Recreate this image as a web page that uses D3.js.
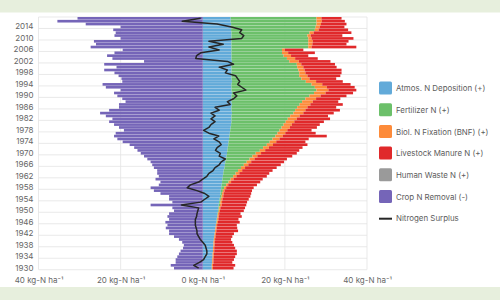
<!DOCTYPE html>
<html>
<head>
<meta charset="utf-8">
<script src="https://cdn.jsdelivr.net/npm/d3@7"></script>
<style>
  body { margin: 0; background: #fff; }
  svg { display: block; font-family: Inter, "Noto Sans", sans-serif; }
</style>
</head>
<body>
<svg id="chart" width="500" height="300"></svg>
<script>
// years run 1930..2017, one bar each
const years = d3.range(1930, 2018);

// kg-N per ha (1930 first)
const atmosDep = [
  2.2, 2.2, 2.3, 2.3, 2.4, 2.4, 2.5, 2.5, 2.6, 2.6,
  2.7, 2.8, 2.9, 3.0, 3.1, 3.2, 3.3, 3.4, 3.5, 3.6,
  3.7, 3.8, 3.9, 4.0, 4.1, 4.2, 4.3, 4.4, 4.5, 4.6,
  4.7, 4.8, 4.9, 5.0, 5.1, 5.3, 5.4, 5.5, 5.7, 5.8,
  5.9, 6.0, 6.1, 6.2, 6.3, 6.4, 6.5, 6.6, 6.7, 6.8,
  6.9, 7.0, 7.0, 7.0, 7.1, 7.0, 7.0, 7.1, 7.0, 7.0,
  7.0, 7.1, 7.0, 7.0, 7.0, 7.1, 7.0, 7.0, 7.0, 7.0,
  7.0, 7.0, 7.1, 7.0, 7.0, 7.0, 7.0, 7.0, 7.0, 7.0,
  7.0, 7.0, 7.0, 6.9, 6.9, 6.9, 6.8, 6.8
];
const fertilizer = [
  0, 0, 0, 0, 0, 0, 0, 0, 0, 0,
  0, 0, 0, 0, 0, 0, 0.1, 0.1, 0.1, 0.1,
  0.2, 0.2, 0.3, 0.3, 0.3, 0.4, 0.4, 0.5, 0.7, 1.1,
  1.6, 2.0, 2.5, 3.0, 3.5, 4.0, 4.6, 5.2, 5.7, 6.3,
  7.0, 7.9, 8.6, 9.4, 10.0, 10.6, 11.2, 11.6, 12.0, 12.4,
  12.8, 13.2, 13.7, 14.3, 15.0, 15.5, 16.0, 16.5, 17.2, 18.0,
  19.0, 20.0, 20.7, 20.3, 19.5, 18.0, 17.0, 16.5, 16.5, 16.3,
  16.0, 15.9, 14.0, 13.5, 12.7, 12.3, 12.3, 18.7, 18.7, 18.7,
  18.7, 18.5, 19.0, 20.4, 20.6, 20.8, 20.9, 20.9
];
const bnf = [
  0.3, 0.3, 0.3, 0.3, 0.3, 0.3, 0.3, 0.3, 0.3, 0.3,
  0.3, 0.3, 0.3, 0.3, 0.3, 0.3, 0.3, 0.3, 0.3, 0.3,
  0.3, 0.3, 0.4, 0.4, 0.4, 0.4, 0.4, 0.4, 0.5, 0.5,
  0.6, 0.7, 0.8, 0.9, 1.0, 1.0, 1.1, 1.1, 1.2, 1.2,
  1.3, 1.3, 1.4, 1.5, 1.6, 1.7, 1.8, 1.9, 1.9, 2.0,
  2.0, 2.1, 2.2, 2.3, 2.4, 2.5, 2.5, 2.6, 2.6, 2.6,
  2.7, 2.8, 2.9, 2.9, 2.6, 2.5, 2.0, 2.0, 1.5, 1.5,
  1.5, 1.1, 2.3, 2.0, 1.8, 1.5, 0.7, 0.8, 1.0, 1.1,
  0.8, 0.8, 1.0, 0.9, 1.0, 1.1, 1.3, 1.2
];
const manure = [
  5.0, 5.4, 4.6, 5.0, 5.2, 5.6, 5.5, 5.1, 4.7, 4.3,
  3.9, 4.1, 4.4, 5.3, 5.0, 4.8, 5.3, 4.9, 5.6, 5.2,
  5.8, 6.0, 6.0, 6.1, 6.4, 6.6, 6.7, 6.7, 6.7, 7.0,
  7.1, 7.1, 7.4, 7.3, 7.4, 7.7, 7.9, 8.0, 7.9, 8.5,
  8.7, 8.3, 8.2, 8.4, 7.1, 7.1, 10.7, 7.4, 5.9, 6.6,
  6.8, 7.2, 8.1, 6.9, 7.4, 8.4, 7.0, 7.9, 6.2, 5.9,
  6.3, 6.7, 6.8, 6.8, 6.9, 6.5, 6.5, 8.0, 8.8, 9.0,
  8.1, 8.2, 7.7, 5.5, 4.2, 6.5, 4.5, 10.9, 8.3, 8.7,
  10.2, 7.7, 9.2, 7.2, 6.0, 6.2, 5.6, 4.9
];
// human waste is too thin to see in the picture
const humanWaste = [
  0, 0, 0, 0, 0, 0, 0, 0, 0, 0,
  0, 0, 0, 0, 0, 0, 0, 0, 0, 0,
  0, 0, 0, 0, 0, 0, 0, 0, 0, 0,
  0, 0, 0, 0, 0, 0, 0, 0, 0, 0,
  0, 0, 0, 0, 0, 0, 0, 0, 0, 0,
  0, 0, 0, 0, 0, 0, 0, 0, 0, 0,
  0, 0, 0, 0, 0, 0, 0, 0, 0, 0,
  0, 0, 0, 0, 0, 0, 0, 0, 0, 0,
  0, 0, 0, 0, 0, 0, 0, 0
];
// drawn to the left of zero
const cropRemoval = [
  7.0, 7.8, 6.6, 6.6, 6.2, 5.8, 5.4, 4.8, 4.6, 5.0,
  5.8, 7.0, 8.2, 8.2, 9.0, 8.6, 9.1, 8.2, 8.6, 8.2,
  7.0, 7.4, 12.7, 7.4, 8.2, 8.2, 10.3, 11.9, 12.7, 10.7,
  10.3, 11.5, 10.7, 11.1, 11.1, 11.9, 12.3, 12.7, 13.5, 14.3,
  15.1, 15.9, 16.7, 17.8, 19.5, 20.8, 21.6, 21.2, 19.2, 20.4,
  21.6, 22.8, 22.0, 23.6, 25.0, 22.8, 20.4, 20.4, 18.8, 19.6,
  20.8, 21.6, 20.0, 23.6, 24.4, 19.6, 19.8, 20.5, 21.5, 24.0,
  21.0, 24.0, 14.3, 22.0, 23.3, 21.5, 19.5, 27.3, 26.0, 26.5,
  20.0, 21.5, 21.2, 21.8, 20.0, 28.5, 35.4, 30.5
];
const surplus = [
  -1.0, -2.2, -0.8, 0.2, 0.6, 1.0, 1.0, 0.8, 0.6, 0.0,
  -0.6, -1.0, -1.4, -1.4, -1.6, -1.8, -1.8, -1.8, -1.5, -1.4,
  -1.2, -1.0, -5.2, -0.5, 0.5, 1.5, 0.5, -1.4, -3.8, -3.0,
  -1.0, 0.0, 1.0, 1.5, 2.5, 3.0, 4.0, 4.5, 5.5, 4.0,
  4.3, 3.1, 3.5, 4.5, 4.0, 2.7, 3.9, 1.5, 0.2, 1.5,
  2.0, 3.0, 2.0, 3.0, 2.0, 4.0, 3.0, 6.7, 6.0, 7.5,
  8.3, 7.5, 10.5, 9.5, 8.5, 9.0, 8.5, 8.0, 5.5, 6.0,
  4.0, 7.5, 6.0, -1.7, -1.5, -0.5, 4.0, 1.5, 5.0, 1.5,
  9.5, 10.0, 9.0, 9.5, 7.0, 3.5, -5.0, -0.5
];

const yearTicks = d3.range(1930, 2018, 4);
const xTicks = [-40, -20, 0, 20, 40];

const keys = ["atmos", "fert", "bnf", "manure", "human"];
const colors = {
  atmos: "#62aad9",
  fert: "#6cc06a",
  bnf: "#fd8b3a",
  manure: "#e0292b",
  human: "#9a9a9a",
  removal: "#7565b8"
};
const legendItems = [
  { label: "Atmos. N Deposition (+)", color: colors.atmos },
  { label: "Fertilizer N (+)", color: colors.fert },
  { label: "Biol. N Fixation (BNF) (+)", color: colors.bnf },
  { label: "Livestock Manure N (+)", color: colors.manure },
  { label: "Human Waste N (+)", color: colors.human },
  { label: "Crop N Removal (-)", color: colors.removal },
  { label: "Nitrogen Surplus", line: true }
];

const rows = years.map((yr, i) => ({
  year: yr,
  atmos: atmosDep[i],
  fert: fertilizer[i],
  bnf: bnf[i],
  manure: manure[i],
  human: humanWaste[i]
}));

const svg = d3.select("#chart");
const W = 500, H = 300;

// page background bands
svg.append("rect").attr("width", W).attr("height", H).attr("fill", "#e7efdd");
svg.append("rect").attr("x", 0).attr("y", 12.5).attr("width", W).attr("height", 274.5).attr("fill", "#fff");

const x = d3.scaleLinear().domain([-40, 40]).range([38.5, 367]);
const y = d3.scaleBand().domain(years.slice().reverse()).range([17, 269.5]).paddingInner(0.08);
const bw = y.bandwidth();
const step = y.step();

// grid
const grid = svg.append("g").attr("stroke", "#e3e3e3").attr("stroke-width", 0.8);
grid.selectAll("line.v").data(xTicks).join("line")
  .attr("x1", d => x(d)).attr("x2", d => x(d))
  .attr("y1", 17).attr("y2", 269.5);
grid.selectAll("line.h").data(yearTicks).join("line")
  .attr("x1", x(-40)).attr("x2", x(40))
  .attr("y1", d => y(d) + step).attr("y2", d => y(d) + step);
grid.append("line").attr("x1", x(-40)).attr("x2", x(40)).attr("y1", 17).attr("y2", 17);

// positive stack
const stacked = d3.stack().keys(keys)(rows);
svg.append("g").selectAll("g").data(stacked).join("g")
  .attr("fill", d => colors[d.key])
  .selectAll("rect").data(d => d).join("rect")
  .attr("x", d => x(d[0]))
  .attr("width", d => Math.max(0, x(d[1]) - x(d[0])))
  .attr("y", d => y(d.data.year))
  .attr("height", bw);

// crop removal to the left
svg.append("g").attr("fill", colors.removal)
  .selectAll("rect").data(years).join("rect")
  .attr("x", (d, i) => x(-cropRemoval[i]))
  .attr("width", (d, i) => x(0) - x(-cropRemoval[i]))
  .attr("y", d => y(d))
  .attr("height", bw);

// surplus line
const line = d3.line()
  .x((d, i) => x(surplus[i]))
  .y(d => y(d) + bw / 2);
svg.append("path").datum(years)
  .attr("d", line)
  .attr("fill", "none")
  .attr("stroke", "#262626")
  .attr("stroke-width", 1.5)
  .attr("stroke-linejoin", "round");

// axes
const yAxis = d3.axisLeft(y).tickValues(yearTicks).tickSize(0).tickPadding(5);
svg.append("g").attr("transform", `translate(${x(-40)},0)`).call(yAxis)
  .call(g => g.select(".domain").remove())
  .selectAll("text").attr("fill", "#666").attr("font-size", 8).attr("font-family", "Inter, sans-serif");

const xAxis = d3.axisBottom(x).tickValues(xTicks).tickSize(0).tickPadding(7)
  .tickFormat(d => Math.abs(d) + " kg-N ha\u207B\u00B9");
svg.append("g").attr("transform", "translate(0,270)").call(xAxis)
  .call(g => g.select(".domain").remove())
  .selectAll("text").attr("fill", "#666").attr("font-size", 8).attr("font-family", "Inter, sans-serif");

// legend
const legend = svg.append("g").attr("transform", "translate(379,81.5)");
const item = legend.selectAll("g").data(legendItems).join("g")
  .attr("transform", (d, i) => `translate(0,${i * 21.7})`);
item.filter(d => !d.line).append("rect")
  .attr("width", 13).attr("height", 13).attr("rx", 1.5)
  .attr("fill", d => d.color);
item.filter(d => d.line).append("line")
  .attr("x1", 0).attr("x2", 13).attr("y1", 7).attr("y2", 7)
  .attr("stroke", "#262626").attr("stroke-width", 2);
item.append("text")
  .attr("x", 17).attr("y", 7).attr("dy", "0.35em")
  .attr("font-size", 7.9).attr("fill", "#5c5c5c")
  .text(d => d.label);
</script>
</body>
</html>
